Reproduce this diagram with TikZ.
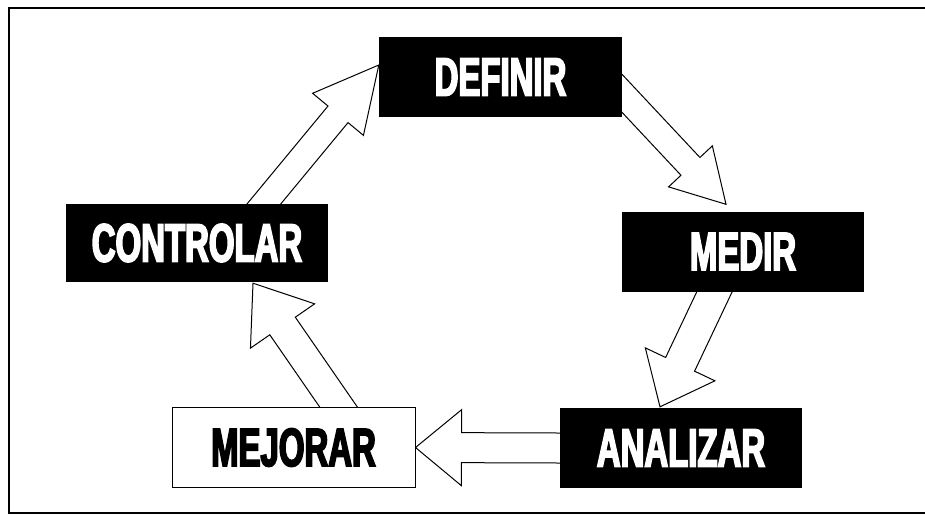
\documentclass[tikz,border=0pt]{standalone}
\usepackage{fontspec}
\newfontfamily\stagefont[FakeStretch=0.61, FakeBold=3]{Liberation Sans Bold}
\usetikzlibrary{calc, backgrounds}
\tikzset{
  stagebox/.style={
    fill=black, text=white, inner sep=0pt,
    minimum width=243pt, minimum height=80pt,
    font=\stagefont\fontsize{54pt}{54pt}\selectfont,
  },
  blockarr/.style={draw=black, fill=white, line width=1pt, line join=miter},
}
% #1 from, #2 tip, #3 half shaft, #4 half head, #5 head length
\newcommand{\blockarrow}[5]{%
  \draw[blockarr] ($(#1)!-15pt!(#2)!#3pt!90:(#2)$)
    -- ($(#2)!#5pt!(#1)!#3pt!-90:(#1)$)
    -- ($(#2)!#5pt!(#1)!#4pt!-90:(#1)$)
    -- (#2)
    -- ($(#2)!#5pt!(#1)!#4pt!90:(#1)$)
    -- ($(#2)!#5pt!(#1)!#3pt!90:(#1)$)
    -- ($(#1)!-15pt!(#2)!#3pt!-90:(#2)$) -- cycle;
}

\begin{document}
\begin{tikzpicture}[x=1pt, y=-1pt]
  \useasboundingbox (0,0) rectangle (925,515);

  % frame
  \draw[line width=1.5pt] (925,8) -- (9,8) -- (9,513) -- (925,513);

  % stages
  \node[stagebox] (def) at (500.5,77) {DEFINIR};
  \node[stagebox, minimum width=242pt] (med) at (743,251.5) {MEDIR};
  \node[stagebox, minimum width=242pt] (ana) at (681,448) {ANALIZAR};
  \node[stagebox, fill=white, text=black, draw=black, line width=1pt]
    (mej) at (293.5,447.5) {MEJORAR};
  \node[stagebox, minimum width=262pt, minimum height=78pt]
    (con) at (197,243) {CONTROLAR};

  % arrow ends
  \coordinate (c1) at ($(con.north)+(67,0)$);
  \coordinate (d1) at ($(def.west)+(0,-12)$);
  \coordinate (d2) at ($(def.east)+(0,16.5)$);
  \coordinate (m1) at ($(med.north)+(-17,-7)$);
  \coordinate (m2) at ($(med.south)+(-28.5,0)$);
  \coordinate (a1) at ($(ana.north)+(-21,-1)$);
  \coordinate (j1) at ($(mej.north)+(45,0)$);
  \coordinate (c2) at ($(con.south)+(56,1)$);

  % cycle
  \begin{scope}[on background layer]
    \blockarrow{c1}{d1}{13}{33}{64}
    \blockarrow{d2}{m1}{13}{30}{52}
    \blockarrow{m2}{a1}{16}{38.5}{47}
    \blockarrow{ana.west}{mej.east}{15}{38}{46}
    \blockarrow{j1}{c2}{15.5}{39}{52}
  \end{scope}

\end{tikzpicture}
\end{document}
